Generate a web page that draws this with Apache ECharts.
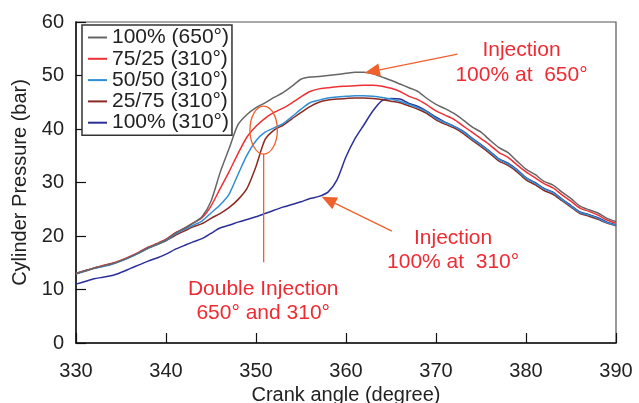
<!DOCTYPE html>
<html>
<head>
<meta charset="utf-8">
<script src="https://cdn.jsdelivr.net/npm/echarts@6/dist/echarts.min.js"></script>
<style>
  html, body { margin: 0; padding: 0; background: #fff; }
  #chart { width: 639px; height: 403px; }
</style>
</head>
<body>
<div id="chart"></div>
<script>
// Crank angle (degrees)
const crankAngle = [
  330, 331, 332, 333, 334, 335, 336, 337, 338, 339,
  340, 341, 342, 343, 344, 345, 346, 347, 348, 349,
  350, 351, 352, 353, 354, 355, 356, 357, 358, 359,
  360, 361, 362, 363, 364, 365, 366, 367, 368, 369,
  370, 371, 372, 373, 374, 375, 376, 377, 378, 379,
  380, 381, 382, 383, 384, 385, 386, 387, 388, 389, 390
];

// Cylinder pressure (bar) for each injection strategy
const p100at650 = [
  13.0, 13.5, 14.0, 14.4, 14.8, 15.4, 16.1, 16.9, 17.8, 18.5,
  19.3, 20.5, 21.4, 22.4, 23.6, 26.5, 31.8, 36.3, 40.8, 42.7,
  44.0, 44.9, 45.9, 46.8, 48.0, 49.3, 49.7, 49.8, 50.0, 50.2,
  50.4, 50.6, 50.6, 50.3, 49.7, 49.1, 48.4, 47.7, 47.0, 45.7,
  44.6, 43.8, 42.9, 41.7, 40.4, 39.4, 37.9, 36.5, 35.6, 34.0,
  32.5, 31.5, 30.2, 29.5, 28.2, 27.0, 25.6, 24.9, 24.3, 23.3, 22.7
];
const p75_25 = [
  13.0, 13.5, 14.0, 14.5, 14.9, 15.5, 16.2, 17.0, 17.9, 18.6,
  19.4, 20.6, 21.4, 22.4, 23.4, 25.6, 28.8, 32.0, 35.4, 38.5,
  40.5, 42.0, 43.1, 43.9, 44.9, 46.0, 47.0, 47.5, 47.7, 47.9,
  48.0, 48.1, 48.2, 48.2, 48.0, 47.6, 47.0, 46.1, 45.5, 44.5,
  43.4, 42.6, 41.8, 40.6, 39.4, 38.2, 37.0, 35.6, 34.7, 33.3,
  32.0, 30.9, 29.8, 29.0, 27.7, 26.5, 25.2, 24.6, 23.9, 23.0, 22.4
];
const p50_50 = [
  12.9, 13.4, 13.9, 14.3, 14.7, 15.3, 16.0, 16.8, 17.7, 18.4,
  19.2, 20.3, 21.2, 22.0, 22.8, 24.3, 25.8, 27.8, 31.5, 35.1,
  37.8, 39.4, 40.2, 41.0, 42.3, 43.7, 44.9, 45.4, 45.8, 46.0,
  46.1, 46.2, 46.2, 46.1, 45.9, 45.6, 45.2, 44.6, 44.0, 43.2,
  42.0, 41.2, 40.5, 39.5, 38.2, 37.0, 35.7, 34.3, 33.5, 32.3,
  30.8, 29.9, 28.8, 28.1, 26.8, 25.6, 24.4, 23.9, 23.3, 22.5, 22.0
];
const p25_75 = [
  13.0, 13.5, 14.0, 14.4, 14.8, 15.4, 16.1, 16.9, 17.7, 18.4,
  19.1, 20.1, 20.9, 21.7, 22.3, 23.3, 24.2, 25.3, 26.8, 28.9,
  33.0, 38.0, 39.8, 40.7, 41.9, 43.1, 44.2, 45.0, 45.4, 45.6,
  45.7, 45.8, 45.8, 45.7, 45.5, 45.2, 44.9, 44.3, 43.7, 42.9,
  41.7, 40.9, 40.2, 39.2, 37.9, 36.7, 35.4, 34.0, 33.2, 32.0,
  30.5, 29.6, 28.5, 27.8, 26.6, 25.4, 24.2, 23.7, 23.1, 22.4, 21.9
];
const p100at310 = [
  11.0, 11.5, 12.0, 12.3, 12.6, 13.2, 13.9, 14.6, 15.3, 15.9,
  16.6, 17.5, 18.2, 18.9, 19.5, 20.5, 21.5, 22.0, 22.6, 23.1,
  23.6, 24.2, 24.8, 25.4, 25.9, 26.4, 27.0, 27.4, 28.2, 30.5,
  34.8, 38.2, 40.8, 43.4, 45.3, 45.7, 45.6, 44.8, 44.2, 43.3,
  42.2, 41.3, 40.5, 39.6, 38.3, 37.1, 35.8, 34.4, 33.6, 32.4,
  30.9, 30.0, 28.9, 28.2, 26.9, 25.7, 24.5, 24.0, 23.4, 22.6, 22.1
];

const seriesNames = ['100% (650°)', '75/25 (310°)', '50/50 (310°)', '25/75 (310°)', '100% (310°)'];
const seriesValues = [p100at650, p75_25, p50_50, p25_75, p100at310];
const seriesColors = ['#666666', '#ee3035', '#2f8ed4', '#8b2a22', '#2b3099'];

const xTicks = { min: 330, max: 390, step: 10 };
const yTicks = { min: 0, max: 60, step: 10 };

const FONT = "'Liberation Sans', Arial, Helvetica, sans-serif";
const ANNOT = '#ee2b33';
const ARROW = '#f0602d';

const chart = echarts.init(document.getElementById('chart'), null, { renderer: 'canvas' });

const series = seriesNames.map((name, i) => ({
  name,
  type: 'line',
  data: crankAngle.map((a, k) => [a, seriesValues[i][k]]),
  showSymbol: false,
  symbol: 'none',
  smooth: 0.25,
  lineStyle: { color: seriesColors[i], width: 1.5 },
  itemStyle: { color: seriesColors[i] },
  z: 2 + (4 - i) * 0.01
}));

chart.setOption({
  animation: false,
  backgroundColor: '#ffffff',
  textStyle: { fontFamily: FONT },
  grid: {
    left: 76, right: 23, top: 22, bottom: 60,
    outerBoundsMode: 'none',
    containLabel: false,
    show: true, borderColor: '#555', borderWidth: 1.2, backgroundColor: 'transparent'
  },
  legend: {
    orient: 'vertical',
    left: 82, top: 25,
    padding: [2, 3, 2, 6],
    itemGap: 0.3,
    itemWidth: 19, itemHeight: 2,
    backgroundColor: '#fff',
    borderColor: '#333', borderWidth: 1.5,
    textStyle: { fontSize: 21, color: '#222', fontFamily: FONT, lineHeight: 21 },
    data: seriesNames.map((n, i) => ({ name: n, icon: 'rect', itemStyle: { color: seriesColors[i] } })),
    z: 10
  },
  xAxis: {
    type: 'value',
    min: xTicks.min, max: xTicks.max, interval: xTicks.step,
    name: 'Crank angle (degree)',
    nameLocation: 'middle', nameGap: 42,
    nameTextStyle: { fontSize: 20, color: '#222', fontFamily: FONT },
    axisLine: { show: true, lineStyle: { color: '#111', width: 1.5 } },
    axisTick: { show: true, inside: true, length: 10, lineStyle: { color: '#111', width: 1.2 } },
    axisLabel: { fontSize: 20, color: '#222', margin: 18, fontFamily: FONT },
    splitLine: { show: false }
  },
  yAxis: {
    type: 'value',
    min: yTicks.min, max: yTicks.max, interval: yTicks.step,
    name: 'Cylinder Pressure (bar)',
    nameLocation: 'middle', nameGap: 43, nameRotate: 90,
    nameTextStyle: { fontSize: 20, color: '#222', fontFamily: FONT },
    axisLine: { show: true, lineStyle: { color: '#111', width: 1.5 } },
    axisTick: { show: true, inside: true, length: 10, lineStyle: { color: '#111', width: 1.2 } },
    axisLabel: { fontSize: 20, color: '#222', margin: 12, fontFamily: FONT },
    splitLine: { show: false }
  },
  series
});

// Annotation anchors, in (crank angle, pressure) data units
const notes = {
  top:    { at: [379.5, 52.4], text: 'Injection\n100% at  650°' },
  mid:    { at: [371.9, 17.3], text: 'Injection\n100% at  310°' },
  double: { at: [350.8, 7.8],  text: 'Double Injection\n650° and 310°' }
};
const arrows = [
  { from: [372.4, 54.0], to: [362.1, 50.5] },
  { from: [365.1, 20.9], to: [357.3, 27.35] }
];
const ring = { center: [350.85, 39.8], lineEnd: [350.85, 15.1] };

function px(pt) { return chart.convertToPixel({ gridIndex: 0 }, pt); }

function arrowShapes(a) {
  const t = px(a.from), h = px(a.to);
  const dx = h[0] - t[0], dy = h[1] - t[1];
  const len = Math.hypot(dx, dy);
  const ux = dx / len, uy = dy / len;
  const headLen = 15, headHalf = 6.5;
  const bx = h[0] - ux * headLen, by = h[1] - uy * headLen;
  return [
    { type: 'line', shape: { x1: t[0], y1: t[1], x2: bx, y2: by },
      style: { stroke: ARROW, lineWidth: 1.3 }, z: 20 },
    { type: 'polygon', shape: { points: [
        [h[0], h[1]],
        [bx - uy * headHalf, by + ux * headHalf],
        [bx + uy * headHalf, by - ux * headHalf]
      ] }, style: { fill: ARROW }, z: 20 }
  ];
}

function noteText(n) {
  const p = px(n.at);
  return {
    type: 'text', x: p[0], y: p[1], z: 20,
    style: {
      text: n.text, fill: ANNOT, font: '21px ' + FONT,
      align: 'center', verticalAlign: 'middle', lineHeight: 24.5
    }
  };
}

const ringRx = 13.7, ringRy = 24;
const c = px(ring.center), e = px(ring.lineEnd);
const graphics = [
  noteText(notes.top), noteText(notes.mid), noteText(notes.double),
  ...arrowShapes(arrows[0]), ...arrowShapes(arrows[1]),
  { type: 'ellipse', shape: { cx: c[0], cy: c[1], rx: ringRx, ry: ringRy },
    style: { stroke: ARROW, fill: 'none', lineWidth: 1.3 }, z: 20 },
  { type: 'line', shape: { x1: c[0], y1: c[1] + ringRy, x2: e[0], y2: e[1] },
    style: { stroke: ARROW, lineWidth: 1.3 }, z: 20 }
];
chart.setOption({ graphic: graphics });
</script>
</body>
</html>
